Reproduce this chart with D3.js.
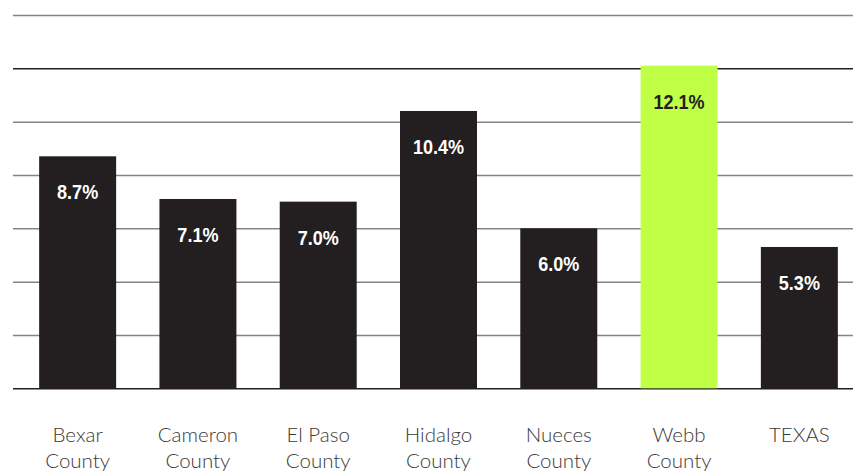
<!DOCTYPE html>
<html>
<head>
<meta charset="utf-8">
<script src="https://cdn.jsdelivr.net/npm/d3@7"></script>
<style>
  html, body { margin: 0; padding: 0; background: #fff; }
  svg { display: block; }
</style>
</head>
<body>
<svg id="chart" width="853" height="473"></svg>
<script>
// Share of population by county, percent
const categories = ["Bexar County", "Cameron County", "El Paso County", "Hidalgo County", "Nueces County", "Webb County", "TEXAS"];
const values = [8.7, 7.1, 7.0, 10.4, 6.0, 12.1, 5.3];
const valueLabels = ["8.7%", "7.1%", "7.0%", "10.4%", "6.0%", "12.1%", "5.3%"];
const gridTicks = [0, 2, 4, 6, 8, 10, 12, 14];
const highlight = "Webb County";

const svg = d3.select("#chart");
const W = 853;

const x = d3.scaleBand()
  .domain(categories)
  .range([17.5, 859.5])
  .paddingInner(0.36)
  .paddingOuter(0.18);

const y = d3.scaleLinear()
  .domain([0, 14])
  .range([388.3, 15]);

// Horizontal gridlines
const yAxis = d3.axisLeft(y).tickValues(gridTicks).tickSize(-(W - 13)).tickFormat("");
const gAxis = svg.append("g")
  .attr("transform", `translate(13,0)`)
  .call(yAxis);
gAxis.select(".domain").remove();
gAxis.selectAll(".tick line")
  .attr("stroke", d => (d === 0 || d === 12) ? "#231f20" : "#858585")
  .attr("stroke-width", 1.5);

// Bars
svg.append("g").selectAll("rect")
  .data(categories)
  .join("rect")
  .attr("x", d => x(d))
  .attr("width", x.bandwidth())
  .attr("y", (d, i) => y(values[i]))
  .attr("height", (d, i) => y(0) - y(values[i]))
  .attr("fill", d => d === highlight ? "#bfff45" : "#231f20");

// Value labels inside bars (horizontally condensed bold)
const condense = 0.86;
svg.append("g").selectAll("text")
  .data(categories)
  .join("text")
  .attr("transform", (d, i) => `translate(${x(d) + x.bandwidth() / 2},${y(values[i]) + 43}) scale(${condense},1)`)
  .attr("text-anchor", "middle")
  .attr("font-family", "'Liberation Sans', Arial, sans-serif")
  .attr("font-weight", "bold")
  .attr("font-size", 21)
  .attr("fill", d => d === highlight ? "#231f20" : "#ffffff")
  .text((d, i) => valueLabels[i]);

// Category labels, split onto two lines
const cat = svg.append("g").selectAll("text")
  .data(categories)
  .join("text")
  .attr("x", d => x(d) + x.bandwidth() / 2)
  .attr("y", 442)
  .attr("text-anchor", "middle")
  .attr("font-family", "Lato, 'Open Sans', sans-serif")
  .attr("font-weight", 300)
  .attr("font-size", 20.5)
  .attr("fill", "#3a3a3a");
cat.each(function(d) {
  const parts = d.split(" ");
  const t = d3.select(this);
  const first = parts.length > 1 ? parts.slice(0, -1).join(" ") : d;
  t.append("tspan").attr("x", x(d) + x.bandwidth() / 2).text(first);
  if (parts.length > 1) {
    t.append("tspan").attr("x", x(d) + x.bandwidth() / 2).attr("dy", 26).text(parts[parts.length - 1]);
  }
});
</script>
</body>
</html>
